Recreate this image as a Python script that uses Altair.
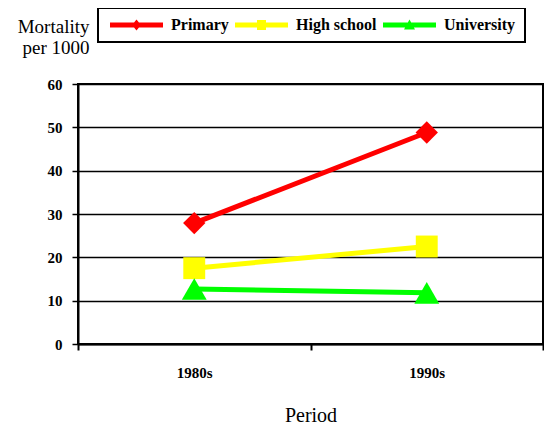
import altair as alt
import pandas as pd

periods = ["1980s", "1990s"]
series_names = ["Primary", "High school", "University"]
primary = [27.9, 48.8]
high_school = [17.5, 22.5]
university = [12.7, 11.8]
y_ticks = [0, 10, 20, 30, 40, 50, 60]

series_colors = ["#FF0000", "#FFFF00", "#00FF00"]
marker_shapes = ["diamond", "square", "triangle-up"]
marker_sizes = [500, 480, 620]

# legend symbols: a line segment with the series marker (unit = 5 px at size 100)
legend_paths = [
    "M-1,-0.5L9.6,-0.5L9.6,0.5L-1,0.5Z M4.3,-1.1L5.2,0L4.3,1.1L3.4,0Z",
    "M-1,-0.5L9.6,-0.5L9.6,0.5L-1,0.5Z M3.4,-1L5.2,-1L5.2,1L3.4,1Z",
    "M-1,-0.5L9.6,-0.5L9.6,0.5L-1,0.5Z M4.3,-1.1L5.4,0.9L3.2,0.9Z",
]

values = {"Primary": primary, "High school": high_school, "University": university}
rows = []
for s in series_names:
    for p, v in zip(periods, values[s]):
        rows.append({"series": s, "period": p, "value": v})
df = pd.DataFrame(rows)

FONT = "Liberation Serif"

x_enc = alt.X(
    "period:N",
    sort=periods,
    scale=alt.Scale(type="band", paddingInner=0, paddingOuter=0),
    axis=alt.Axis(
        title="Period",
        tickBand="extent",
        grid=False,
        labelAngle=0,
        labelFont=FONT,
        labelFontSize=15,
        labelFontWeight="bold",
        labelColor="black",
        labelPadding=15,
        tickSize=6,
        tickWidth=2,
        tickColor="black",
        domainColor="black",
        domainWidth=2,
        titleFont=FONT,
        titleFontSize=20,
        titleFontWeight="normal",
        titleColor="black",
        titleBaseline="alphabetic",
        titleY=77,
    ),
)

y_enc = alt.Y(
    "value:Q",
    scale=alt.Scale(domain=[0, 60], nice=False),
    axis=alt.Axis(
        values=y_ticks,
        title=["Mortality", "per 1000"],
        grid=True,
        gridColor="black",
        gridWidth=1.5,
        labelFont=FONT,
        labelFontSize=15,
        labelFontWeight="bold",
        labelColor="black",
        labelPadding=10,
        tickSize=6,
        tickWidth=1.5,
        tickColor="black",
        domainColor="black",
        domainWidth=2,
        titleFont=FONT,
        titleFontSize=19,
        titleFontWeight="normal",
        titleColor="black",
        titleAngle=0,
        titleAlign="right",
        titleBaseline="alphabetic",
        titleX=11,
        titleY=-52,
        titleLineHeight=21,
    ),
)

base = alt.Chart(df)
layers = []
for s, col, shp, sz in zip(series_names, series_colors, marker_shapes, marker_sizes):
    sub = base.transform_filter(alt.datum.series == s)
    layers.append(
        sub.mark_line(strokeWidth=5, color=col).encode(x=x_enc, y=y_enc)
    )
    layers.append(
        sub.mark_point(filled=True, opacity=1, shape=shp, size=sz, color=col).encode(
            x=x_enc, y=y_enc
        )
    )

legend_def = alt.Legend(
    title=None,
    orient="none",
    legendX=20,
    legendY=-76,
    direction="horizontal",
    labelFont=FONT,
    labelFontSize=16,
    labelFontWeight="bold",
    labelColor="black",
    labelOffset=48,
    columnPadding=3,
    padding=9,
    strokeColor="black",
    fillColor="white",
    symbolSize=100,
    symbolStrokeWidth=0,
    symbolOpacity=1,
)

legend_layer = base.transform_filter("false").mark_point(
    filled=True, opacity=1, size=100
).encode(
    x=x_enc,
    y=y_enc,
    color=alt.Color("series:N",
                    scale=alt.Scale(domain=series_names, range=series_colors),
                    legend=legend_def),
    shape=alt.Shape(
        "series:N",
        scale=alt.Scale(domain=series_names, range=legend_paths),
        legend=legend_def,
    ),
)

chart = (
    alt.layer(*layers, legend_layer)
    .properties(
        width=465,
        height=260,
        padding={"left": 70, "top": 76, "right": 1, "bottom": 83},
        autosize=alt.AutoSizeParams(type="none"),
        background="white",
    )
    .configure_view(stroke="black", strokeWidth=2)
    .configure_legend(strokeWidth=2)
)

chart.save("out.html", embed_options={"renderer": "svg", "actions": False})
